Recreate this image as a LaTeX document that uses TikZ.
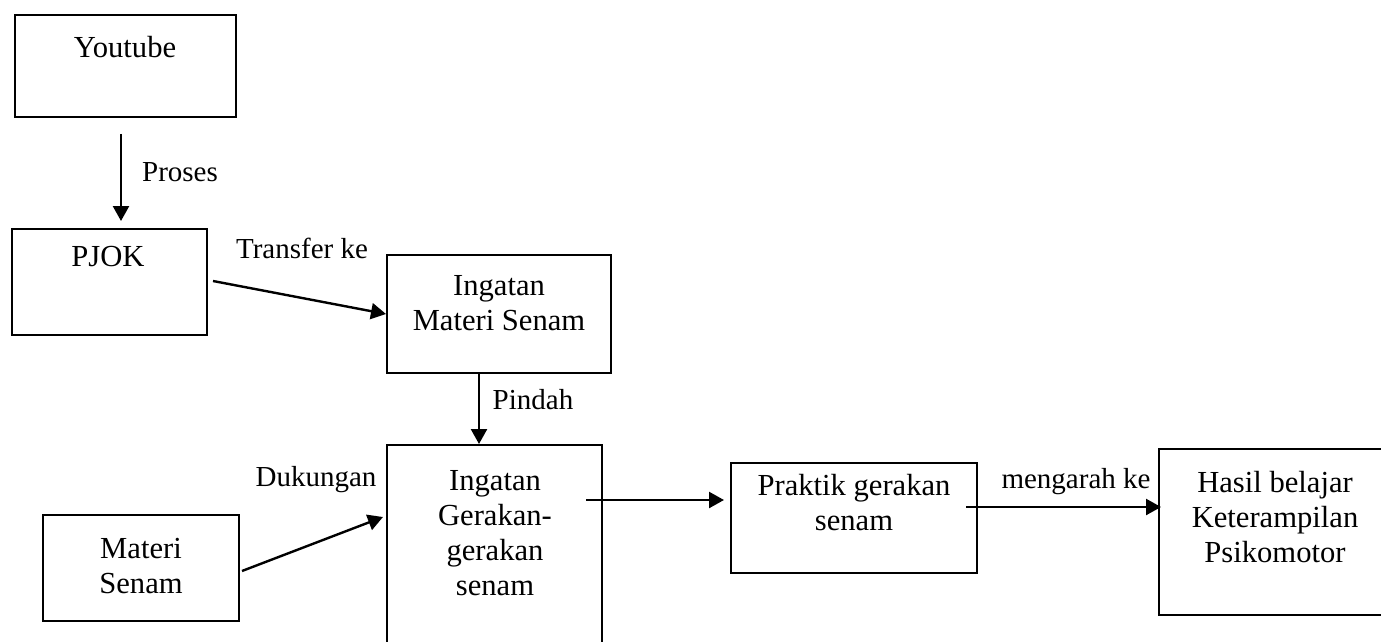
\documentclass[tikz,border=0pt]{standalone}
\usepackage{fontspec}
\setmainfont{Liberation Serif}
\usetikzlibrary{arrows.meta,fit,calc}
\begin{document}
\begin{tikzpicture}[x=0.5pt,y=-0.5pt,
  box/.style={draw, line width=1pt, inner sep=0pt},
  txt/.style={font=\fontsize{15.3pt}{17.5pt}\selectfont, inner sep=0pt, align=center},
  lbl/.style={font=\fontsize{14.5pt}{17pt}\selectfont, inner sep=0pt},
  arr/.style={line width=1.2pt, -{Triangle[length=7.5pt,width=8pt]}}]
\useasboundingbox (0,0) rectangle (1381,642);
\clip (0,0) rectangle (1381,642);
% boxes
\node[box, fit={(15,15) (236,117)}] (yt) {};
\node[box, fit={(12,229) (207,335)}] (pj) {};
\node[box, fit={(387,255) (611,373)}] (ims) {};
\node[box, fit={(387,445) (602,680)}] (igs) {};
\node[box, fit={(43,515) (239,621)}] (ms) {};
\node[box, fit={(731,463) (977,573)}] (pr) {};
\node[box, fit={(1159,449) (1395,615)}] (hs) {};
% box texts
\node[txt] (ytt) at (125,47) {Youtube};
\node[txt] (pjt) at (108,257) {PJOK};
\node[txt] (imst) at (499,303) {Ingatan\\Materi Senam};
\node[txt] (igst) at (495,533) {Ingatan\\Gerakan-\\gerakan\\senam};
\node[txt] (mst) at (141,566) {Materi\\Senam};
\node[txt] (prt) at (854,503) {Praktik gerakan\\senam};
\node[txt] (hst) at (1275,517) {Hasil belajar\\Keterampilan\\Psikomotor};
% connector labels
\node[lbl] (l1) at (180,172) {Proses};
\node[lbl] (l2) at (302,248) {Transfer ke};
\node[lbl] (l3) at (533,400) {Pindah};
\node[lbl] (l4) at (316,480) {Dukungan};
\node[lbl] (l5) at (1076,482) {mengarah ke};
% helper coordinates
\coordinate (xA) at (121,0);
\coordinate (xB) at (479,0);
\coordinate (yA) at (0,500);
\coordinate (yB) at (0,507);
% connectors
\draw[arr] ($(yt.south -| xA)+(0,16)$) -- ($(pj.north -| xA)+(0,-7)$);
\draw[arr] ($(pj.east)+(5,-1)$) -- (ims.west);
\draw[arr] (ims.south -| xB) -- (igs.north -| xB);
\draw[arr] ($(ms.east)+(2,3)$) -- ($(igs.north west)+(-3,73)$);
\draw[arr] ($(igs.north east |- yA)+(-17,0)$) -- ($(pr.west |- yA)+(-6,0)$);
\draw[arr] ($(pr.east |- yB)+(-12,0)$) -- ($(hs.west |- yB)+(3,0)$);
\end{tikzpicture}
\end{document}
